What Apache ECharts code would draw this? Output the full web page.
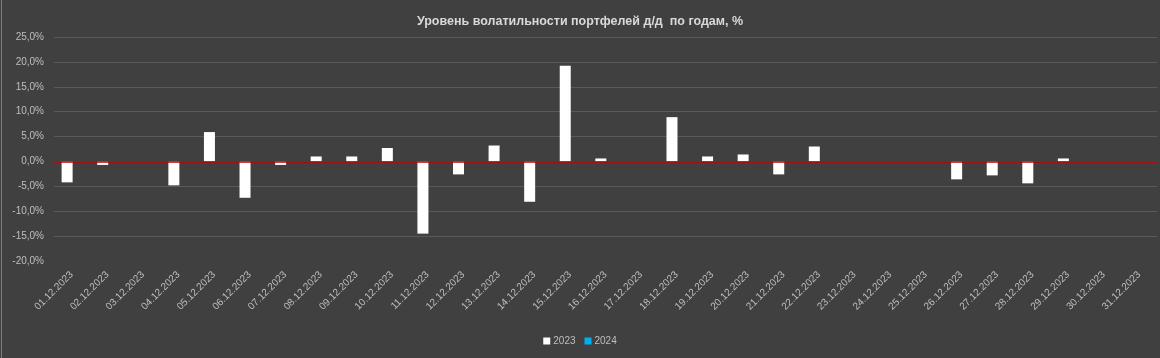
<!DOCTYPE html>
<html>
<head>
<meta charset="utf-8">
<script src="https://cdn.jsdelivr.net/npm/echarts@6/dist/echarts.min.js"></script>
<style>
html,body{margin:0;padding:0;background:#404040;}
#chart{width:1160px;height:358px;}
</style>
</head>
<body>
<div id="chart"></div>
<script>
const titleText = 'Уровень волатильности портфелей д/д  по годам, %';
const categories = ['01.12.2023','02.12.2023','03.12.2023','04.12.2023','05.12.2023','06.12.2023','07.12.2023','08.12.2023','09.12.2023','10.12.2023','11.12.2023','12.12.2023','13.12.2023','14.12.2023','15.12.2023','16.12.2023','17.12.2023','18.12.2023','19.12.2023','20.12.2023','21.12.2023','22.12.2023','23.12.2023','24.12.2023','25.12.2023','26.12.2023','27.12.2023','28.12.2023','29.12.2023','30.12.2023','31.12.2023'];
const values2023 = [-4.2,-0.7,null,-4.8,5.9,-7.3,-0.7,1.0,1.0,2.7,-14.5,-2.6,3.2,-8.1,19.2,0.6,null,8.9,1.0,1.4,-2.6,3.0,null,null,null,-3.6,-2.8,-4.4,0.6,null,null];
const values2024 = [null,null,null,null,null,null,null,null,null,null,null,null,null,null,null,null,null,null,null,null,null,null,null,null,null,null,null,null,null,null,null];
const seriesNames = ['2023','2024'];
const yMin = -20, yMax = 25, yStep = 5;
const zeroLine = 0;

const chart = echarts.init(document.getElementById('chart'), null, {renderer:'canvas'});
const font = '"Liberation Sans", "DejaVu Sans", sans-serif';
chart.setOption({
  backgroundColor: '#404040',
  animation: false,
  title: {
    text: titleText, left: 'center', top: 10,
    textStyle: {color: '#D9D9D9', fontSize: 12.5, fontWeight: 'bold', fontFamily: font}
  },
  legend: {
    data: seriesNames, bottom: 7, left: 'center',
    itemWidth: 7, itemHeight: 7, itemGap: 9, icon: 'rect',
    textStyle: {color: '#BFBFBF', fontSize: 10, fontFamily: font, padding: [0,0,0,-2]}
  },
  grid: {left: 54, right: 3, top: 37, bottom: 97, containLabel: false},
  xAxis: {
    type: 'category', data: categories,
    axisLine: {show: false}, axisTick: {show: false},
    axisLabel: {color: '#BFBFBF', fontSize: 10, fontFamily: font, rotate: 45, margin: 12, interval: 0}
  },
  yAxis: {
    type: 'value', min: yMin, max: yMax, interval: yStep,
    axisLine: {show: false}, axisTick: {show: false},
    axisLabel: {color: '#BFBFBF', fontSize: 10, fontFamily: font, margin: 10,
      formatter: v => v.toFixed(1).replace('.', ',') + '%'},
    splitLine: {show: true, showMinLine: false, lineStyle: {color: '#595959', width: 1}}
  },
  series: [
    {
      name: seriesNames[0], type: 'bar', data: values2023, barWidth: 11, barGap: '-15%',
      itemStyle: {color: '#FFFFFF'}, z: 3,
      markLine: {
        silent: true, symbol: ['none', 'none'], z: 10,
        label: {show: false},
        lineStyle: {color: '#C00000', width: 1.5, type: 'solid', opacity: 1},
        emphasis: {disabled: true},
        data: [{yAxis: zeroLine}]
      }
    },
    {
      name: seriesNames[1], type: 'bar', data: values2024, barWidth: 11,
      itemStyle: {color: '#00B0F0'}
    }
  ],
  graphic: [{
    type: 'line', shape: {x1: 1.5, y1: 0, x2: 1.5, y2: 358},
    style: {stroke: '#7F7F7F', lineWidth: 1}
  }]
});
</script>
</body>
</html>
